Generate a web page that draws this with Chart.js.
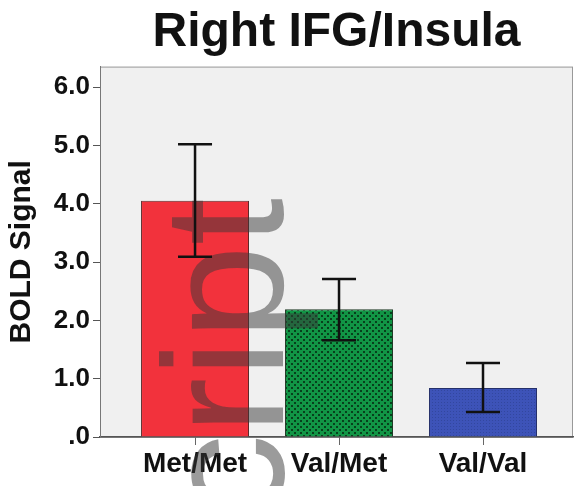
<!DOCTYPE html>
<html>
<head>
<meta charset="utf-8">
<script src="https://cdn.jsdelivr.net/npm/chart.js@4.4.1/dist/chart.umd.min.js"></script>
<style>
  body { margin: 0; background: #fff; }
</style>
</head>
<body>
<canvas id="boldChart" width="577" height="486"></canvas>
<script>
// ---- data ----
const groups = ['Met/Met', 'Val/Met', 'Val/Val'];
const boldMeans = [4.05, 2.19, 0.84];
const errLow = [3.09, 1.66, 0.43];
const errHigh = [5.02, 2.71, 1.27];
const yTicks = [0, 1, 2, 3, 4, 5, 6];

const FONT = '"Liberation Sans", Arial, Helvetica, sans-serif';

// --- fill patterns (SPSS style) ---
function makePattern(size, base, dark, dots) {
    const c = document.createElement('canvas');
    c.width = size; c.height = size;
    const g = c.getContext('2d');
    g.fillStyle = base;
    g.fillRect(0, 0, size, size);
    g.fillStyle = dark;
    dots.forEach(d => g.fillRect(d[0], d[1], d[2], d[2]));
    return g.createPattern(c, 'repeat');
}
const ctx = document.getElementById('boldChart').getContext('2d');
const greenHatch = makePattern(6, '#119545', '#07401c', [[0, 0, 2], [3, 3, 2]]);
const blueDots = makePattern(3, '#3d53b8', '#32479f', [[0, 0, 1]]);

// plot background + frame
const plotFrame = {
    id: 'plotFrame',
    beforeDraw(chart) {
        const a = chart.chartArea, c = chart.ctx;
        c.save();
        c.fillStyle = '#f0f0f0';
        c.fillRect(a.left, a.top, a.right - a.left, a.bottom - a.top);
        c.strokeStyle = '#999';
        c.lineWidth = 1;
        c.strokeRect(a.left + 0.5, a.top + 0.5, a.right - a.left - 1, a.bottom - a.top);
        c.restore();
    }
};

// watermark and error bars
const overlay = {
    id: 'overlay',
    afterDatasetsDraw(chart) {
        const c = chart.ctx;
        c.save();
        c.translate(283, 198);
        c.rotate(-Math.PI / 2);
        c.font = '170px ' + FONT;
        c.fillStyle = 'rgba(55,55,55,0.5)';
        c.textAlign = 'right';
        c.textBaseline = 'alphabetic';
        c.fillText('Manuscript', 0, 0);
        c.restore();

        const meta = chart.getDatasetMeta(0);
        const y = chart.scales.y;
        c.save();
        c.strokeStyle = '#111';
        c.lineWidth = 2.5;
        meta.data.forEach((bar, i) => {
            const top = y.getPixelForValue(errHigh[i]);
            const bot = y.getPixelForValue(errLow[i]);
            c.beginPath();
            c.moveTo(bar.x, top); c.lineTo(bar.x, bot);
            c.moveTo(bar.x - 17, top); c.lineTo(bar.x + 17, top);
            c.moveTo(bar.x - 17, bot); c.lineTo(bar.x + 17, bot);
            c.stroke();
        });
        c.restore();
    }
};

new Chart(ctx, {
    type: 'bar',
    data: {
        datasets: [{
            data: boldMeans.map((v, i) => ({ x: i, y: v })),
            backgroundColor: ['#f2323c', greenHatch, blueDots],
            borderColor: ['#5a2a2a', '#1f3a25', '#25306a'],
            borderWidth: 1,
            barPercentage: 0.75,
            categoryPercentage: 1
        }]
    },
    options: {
        responsive: false,
        animation: false,
        layout: { padding: { left: 0, right: 4, top: 0, bottom: 0 } },
        scales: {
            x: {
                type: 'linear', min: -0.66, max: 2.625, offset: false, z: 1,
                afterBuildTicks: s => { s.ticks = groups.map((g, i) => ({ value: i })); },
                afterFit: s => { s.height = 49; },
                grid: { offset: false, drawOnChartArea: false, tickLength: 8, color: '#666' },
                border: { color: '#555', width: 1.5 },
                ticks: {
                    callback: v => groups[v],
                    font: { family: FONT, size: 28, weight: 'bold' },
                    color: '#111', padding: 2, maxRotation: 0, autoSkip: false
                }
            },
            y: {
                min: 0, max: 6.35,
                afterBuildTicks: s => { s.ticks = yTicks.map(v => ({ value: v })); },
                afterFit: s => { s.width = 100; },
                grid: { drawOnChartArea: false, tickLength: 7, color: '#555' },
                border: { color: '#777' },
                ticks: {
                    callback: v => v === 0 ? '.0' : v.toFixed(1),
                    font: { family: FONT, size: 26, weight: 'bold' },
                    color: '#111', padding: 3
                },
                title: {
                    display: true, text: 'BOLD Signal', color: '#111',
                    font: { family: FONT, size: 30, weight: 'bold' },
                    padding: { top: 4, bottom: 0 }
                }
            }
        },
        plugins: {
            legend: { display: false },
            tooltip: { enabled: false },
            title: {
                display: true, text: 'Right IFG/Insula', color: '#111', fullSize: false,
                font: { family: FONT, size: 48, weight: 'bold' },
                padding: { top: 4, bottom: 5 }
            }
        }
    },
    plugins: [plotFrame, overlay]
});
</script>
</body>
</html>
